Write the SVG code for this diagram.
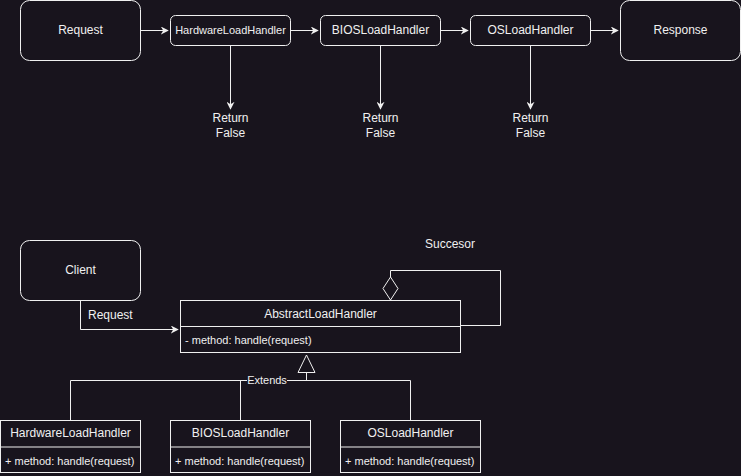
<svg xmlns="http://www.w3.org/2000/svg" width="741" height="476" viewBox="0 0 741 476">
<defs>
<style>
text{font-family:"Liberation Sans",Arial,sans-serif;font-size:12px;fill:#f0f0f0}
.c{text-anchor:middle}
.box{fill:#18141d;stroke:#f0f0f0;stroke-width:1}
.ln{fill:none;stroke:#f0f0f0;stroke-width:1}
</style>
<marker id="arr" viewBox="0 0 10 10" refX="9" refY="5" markerWidth="8" markerHeight="8" markerUnits="userSpaceOnUse" orient="auto">
<path d="M0,0 L10,5 L0,10 L3,5 Z" fill="#f0f0f0"/>
</marker>
</defs>
<rect width="741" height="476" fill="#18141d"/>
<g id="connectors">
<path class="ln" d="M140.5,30.5 H168" marker-end="url(#arr)"/>
<path class="ln" d="M290.5,30.5 H318" marker-end="url(#arr)"/>
<path class="ln" d="M440.5,30.5 H468" marker-end="url(#arr)"/>
<path class="ln" d="M590.5,30.5 H618" marker-end="url(#arr)"/>
<path class="ln" d="M230.5,45.5 V109" marker-end="url(#arr)"/>
<path class="ln" d="M380.5,45.5 V109" marker-end="url(#arr)"/>
<path class="ln" d="M530.5,45.5 V109" marker-end="url(#arr)"/>
<path class="ln" d="M80.5,300.5 V329.5 H178" marker-end="url(#arr)"/>
<text x="88" y="319">Request</text>
<path class="ln" d="M460.5,325.5 H500.5 V270.5 H390.5 V277"/>
<path class="box" d="M390.5,277 L398,288.5 L390.5,300 L383,288.5 Z"/>
<path class="ln" d="M70.5,420 V380.5 H410.5 V420 M240.5,380.5 V420 M306.5,380.5 V372.5"/>
<path class="box" d="M306.5,355 L315,372.5 L298,372.5 Z"/>
<rect x="247" y="374" width="40" height="12" fill="#18141d"/>
<text class="c" x="267" y="384" style="font-size:11px">Extends</text>
</g>
<g id="request"><rect class="box" x="20.5" y="0.5" width="120" height="60" rx="9"/><text class="c" x="80.5" y="34">Request</text></g>
<g id="hw"><rect class="box" x="170.5" y="15.5" width="120" height="30" rx="5"/><text class="c" x="230.5" y="34" style="font-size:11px">HardwareLoadHandler</text></g>
<g id="bios"><rect class="box" x="320.5" y="15.5" width="120" height="30" rx="5"/><text class="c" x="380.5" y="34">BIOSLoadHandler</text></g>
<g id="os"><rect class="box" x="470.5" y="15.5" width="120" height="30" rx="5"/><text class="c" x="530.5" y="34">OSLoadHandler</text></g>
<g id="response"><rect class="box" x="620.5" y="0.5" width="120" height="60" rx="9"/><text class="c" x="680.5" y="34">Response</text></g>
<g id="rf1"><text class="c" x="230.5" y="122">Return</text><text class="c" x="230.5" y="137">False</text></g>
<g id="rf2"><text class="c" x="380.5" y="122">Return</text><text class="c" x="380.5" y="137">False</text></g>
<g id="rf3"><text class="c" x="530.5" y="122">Return</text><text class="c" x="530.5" y="137">False</text></g>
<g id="client"><rect class="box" x="20.5" y="240.5" width="120" height="60" rx="9"/><text class="c" x="80.5" y="274">Client</text></g>
<g id="succ"><text class="c" x="450" y="248">Succesor</text></g>
<g id="abstract"><rect class="box" x="180.5" y="300.5" width="280" height="52"/><line class="ln" x1="180.5" y1="326.5" x2="460.5" y2="326.5"/><text class="c" x="320.5" y="318">AbstractLoadHandler</text><text x="185" y="344" style="font-size:11px">- method: handle(request)</text></g>
<g id="hw2"><rect class="box" x="0.5" y="420.5" width="140" height="52"/><line class="ln" x1="0.5" y1="447" x2="140.5" y2="447"/><text class="c" x="70.5" y="437">HardwareLoadHandler</text><text x="5" y="465" style="font-size:11px">+ method: handle(request)</text></g>
<g id="bios2"><rect class="box" x="170.5" y="420.5" width="140" height="52"/><line class="ln" x1="170.5" y1="447" x2="310.5" y2="447"/><text class="c" x="240.5" y="437">BIOSLoadHandler</text><text x="175" y="465" style="font-size:11px">+ method: handle(request)</text></g>
<g id="os2"><rect class="box" x="340.5" y="420.5" width="140" height="52"/><line class="ln" x1="340.5" y1="447" x2="480.5" y2="447"/><text class="c" x="410.5" y="437">OSLoadHandler</text><text x="345" y="465" style="font-size:11px">+ method: handle(request)</text></g>
</svg>
